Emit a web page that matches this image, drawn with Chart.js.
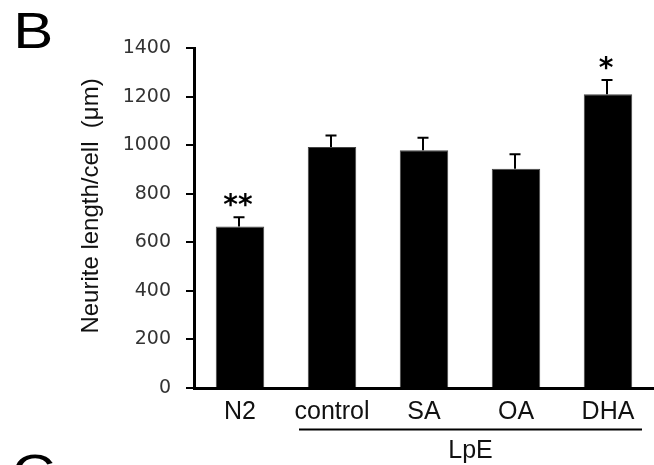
<!DOCTYPE html>
<html>
<head>
<meta charset="utf-8">
<script src="https://cdn.jsdelivr.net/npm/chart.js@4.4.1/dist/chart.umd.min.js"></script>
<style>
  html, body { margin: 0; padding: 0; background: #fff; }
  #wrap { width: 654px; height: 465px; }
</style>
</head>
<body>
<div id="wrap"><canvas id="myChart" width="654" height="465"></canvas></div>
<script>
// values
const categories = ['N2', 'control', 'SA', 'OA', 'DHA'];
const means = [665, 992, 979, 903, 1210];
const errors = [38, 48, 51, 59, 58];
const stars = ['**', '', '', '', '*'];
const yTicks = [0, 200, 400, 600, 800, 1000, 1200, 1400];
const yTitle = 'Neurite length/cell  (\u03bcm)';
const groupLabel = 'LpE';
const groupFrom = 1;
const groupTo = 4;

// error bars, stars, group line, panel letters
const extras = {
  id: 'extras',
  afterDatasetsDraw(chart) {
    const ctx = chart.ctx;
    const x = chart.scales.x;
    const y = chart.scales.y;
    ctx.save();
    ctx.strokeStyle = '#000';
    ctx.fillStyle = '#000';
    ctx.lineWidth = 2;
    means.forEach((v, i) => {
      const cx = Math.round(x.getPixelForValue(i)) - 1;
      const top = y.getPixelForValue(v + errors[i]);
      const base = y.getPixelForValue(v);
      ctx.beginPath();
      ctx.moveTo(cx, base);
      ctx.lineTo(cx, top);
      ctx.moveTo(cx - 5.5, top);
      ctx.lineTo(cx + 5.5, top);
      ctx.stroke();
      if (stars[i]) {
        ctx.font = 'bold 28px "DejaVu Sans"';
        ctx.textAlign = 'center';
        ctx.textBaseline = 'alphabetic';
        const m = ctx.measureText(stars[i]);
        const mid = top - 17;
        ctx.fillText(stars[i], cx - 1, mid + (m.actualBoundingBoxAscent - m.actualBoundingBoxDescent) / 2);
      }
    });

    // group line under the LpE categories
    const x1 = x.getPixelForValue(groupFrom) - 33;
    const x2 = x.getPixelForValue(groupTo) + 34;
    ctx.lineWidth = 2;
    ctx.beginPath();
    ctx.moveTo(x1, 429.5);
    ctx.lineTo(x2, 429.5);
    ctx.stroke();
    ctx.font = '25px "Liberation Sans"';
    ctx.textAlign = 'center';
    ctx.textBaseline = 'middle';
    ctx.fillStyle = '#111';
    ctx.fillText(groupLabel, (x1 + x2) / 2, 451);

    // y axis title
    ctx.save();
    ctx.translate(98, 206);
    ctx.rotate(-Math.PI / 2);
    ctx.font = '24px "Liberation Sans"';
    ctx.textBaseline = 'alphabetic';
    ctx.fillStyle = '#111';
    ctx.fillText(yTitle, 0, 0);
    ctx.restore();

    // panel letters (a bit wider than the plain font)
    ctx.fillStyle = '#000';
    ctx.font = '50px "Liberation Sans"';
    ctx.textAlign = 'left';
    ctx.textBaseline = 'alphabetic';
    ctx.save();
    ctx.scale(1.2, 1);
    ctx.fillText('B', 11, 48);
    ctx.fillText('C', 10, 490);
    ctx.restore();
    ctx.restore();
  }
};

const ctx = document.getElementById('myChart').getContext('2d');
const myChart = new Chart(ctx, {
  type: 'bar',
  data: {
    labels: categories,
    datasets: [
      {
        data: means,
        backgroundColor: '#000',
        borderColor: '#444',
        borderWidth: 1,
        barPercentage: 0.527,
        categoryPercentage: 1,
      },
    ],
  },
  options: {
    responsive: false,
    animation: false,
    events: [],
    layout: { padding: { left: 0, right: -5, top: 48, bottom: 0 } },
    plugins: {
      legend: { display: false },
      tooltip: { enabled: false },
    },
    scales: {
      x: {
        grid: { display: false, drawTicks: false },
        border: { display: true, color: '#000', width: 3 },
        ticks: {
          color: '#111',
          padding: 9,
          font: { family: 'Liberation Sans', size: 25 },
        },
        afterFit: s => { s.height = 77; },
      },
      y: {
        min: 0,
        max: 1400,
        afterBuildTicks: s => { s.ticks = yTicks.map(v => ({ value: v })); },
        grid: { drawOnChartArea: false, drawTicks: true, tickLength: 8, lineWidth: 2, color: '#000' },
        border: { display: true, color: '#000', width: 3 },
        ticks: {
          color: '#333',
          padding: 15,
          font: { family: 'DejaVu Sans', size: 19 },
          callback: v => String(v),
        },
        afterFit: s => { s.width = 194; },
      },
    },
  },
  plugins: [extras],
});
</script>
</body>
</html>
